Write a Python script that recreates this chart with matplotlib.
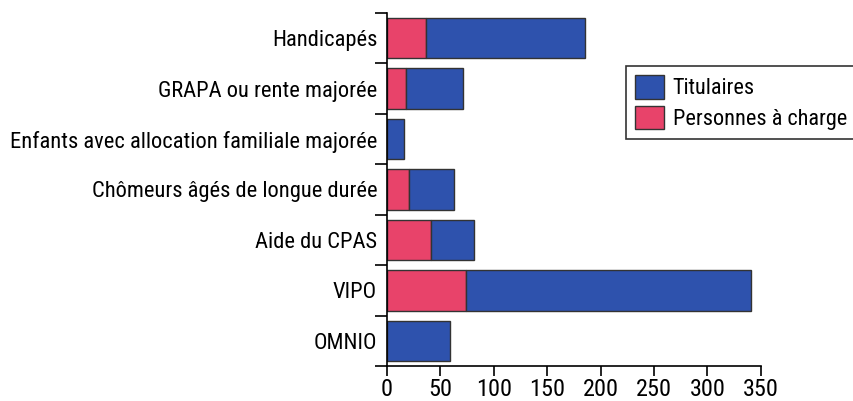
import matplotlib
matplotlib.use("Agg")
import matplotlib.pyplot as plt
from matplotlib.patches import Patch
import numpy as np

# Data
categories = ["Handicapés",
              "GRAPA ou rente majorée",
              "Enfants avec allocation familiale majorée",
              "Chômeurs âgés de longue durée",
              "Aide du CPAS",
              "VIPO",
              "OMNIO"]
personnes_a_charge = [37, 18, 0, 21, 41, 74, 0]
totals = [185, 71, 16, 63, 82, 341, 59]
titulaires = [t - p for t, p in zip(totals, personnes_a_charge)]

blue = "#2e52ad"
pink = "#e8436a"

plt.rcParams["font.family"] = ["Roboto Condensed", "DejaVu Sans"]

fig = plt.figure(figsize=(8.54, 4.01), dpi=100)
ax = fig.add_axes([0.453, 0.0873, 0.438, 0.8803])

y = np.arange(len(categories))[::-1]
ax.barh(y, personnes_a_charge, height=0.8, color=pink, edgecolor="#333333", linewidth=1.0)
ax.barh(y, titulaires, left=personnes_a_charge, height=0.8, color=blue,
        edgecolor="#333333", linewidth=1.0)

ax.set_xlim(0, 350)
ax.set_ylim(-0.5, len(categories) - 0.5)
ax.set_xticks(range(0, 351, 50))

# ticks at boundaries, labels at centres
ax.set_yticks(np.arange(-0.5, len(categories), 1.0))
ax.set_yticklabels([])
ax.set_yticks(y, minor=True)
ax.set_yticklabels(categories, minor=True)
ax.tick_params(axis="y", which="major", length=9, width=1.2, direction="out")
ax.tick_params(axis="y", which="minor", length=0, pad=7, labelsize=16.2)
ax.tick_params(axis="x", length=7, width=1.2, labelsize=17.5, pad=2)

for s in ["top", "right"]:
    ax.spines[s].set_visible(False)
for s in ["left", "bottom"]:
    ax.spines[s].set_linewidth(1.2)

handles = [Patch(facecolor=blue, edgecolor="#333333", label="Titulaires"),
           Patch(facecolor=pink, edgecolor="#333333", label="Personnes à charge")]
leg = fig.legend(handles=handles, loc="upper left", bbox_to_anchor=(0.733, 0.835),
                 fontsize=16, frameon=True, fancybox=False, edgecolor="black",
                 handlelength=1.3, handleheight=1.25, handletextpad=0.4,
                 borderpad=0.4, labelspacing=0.3, borderaxespad=0)
leg.get_frame().set_linewidth(1.2)

fig.savefig("out.png", dpi=100)
